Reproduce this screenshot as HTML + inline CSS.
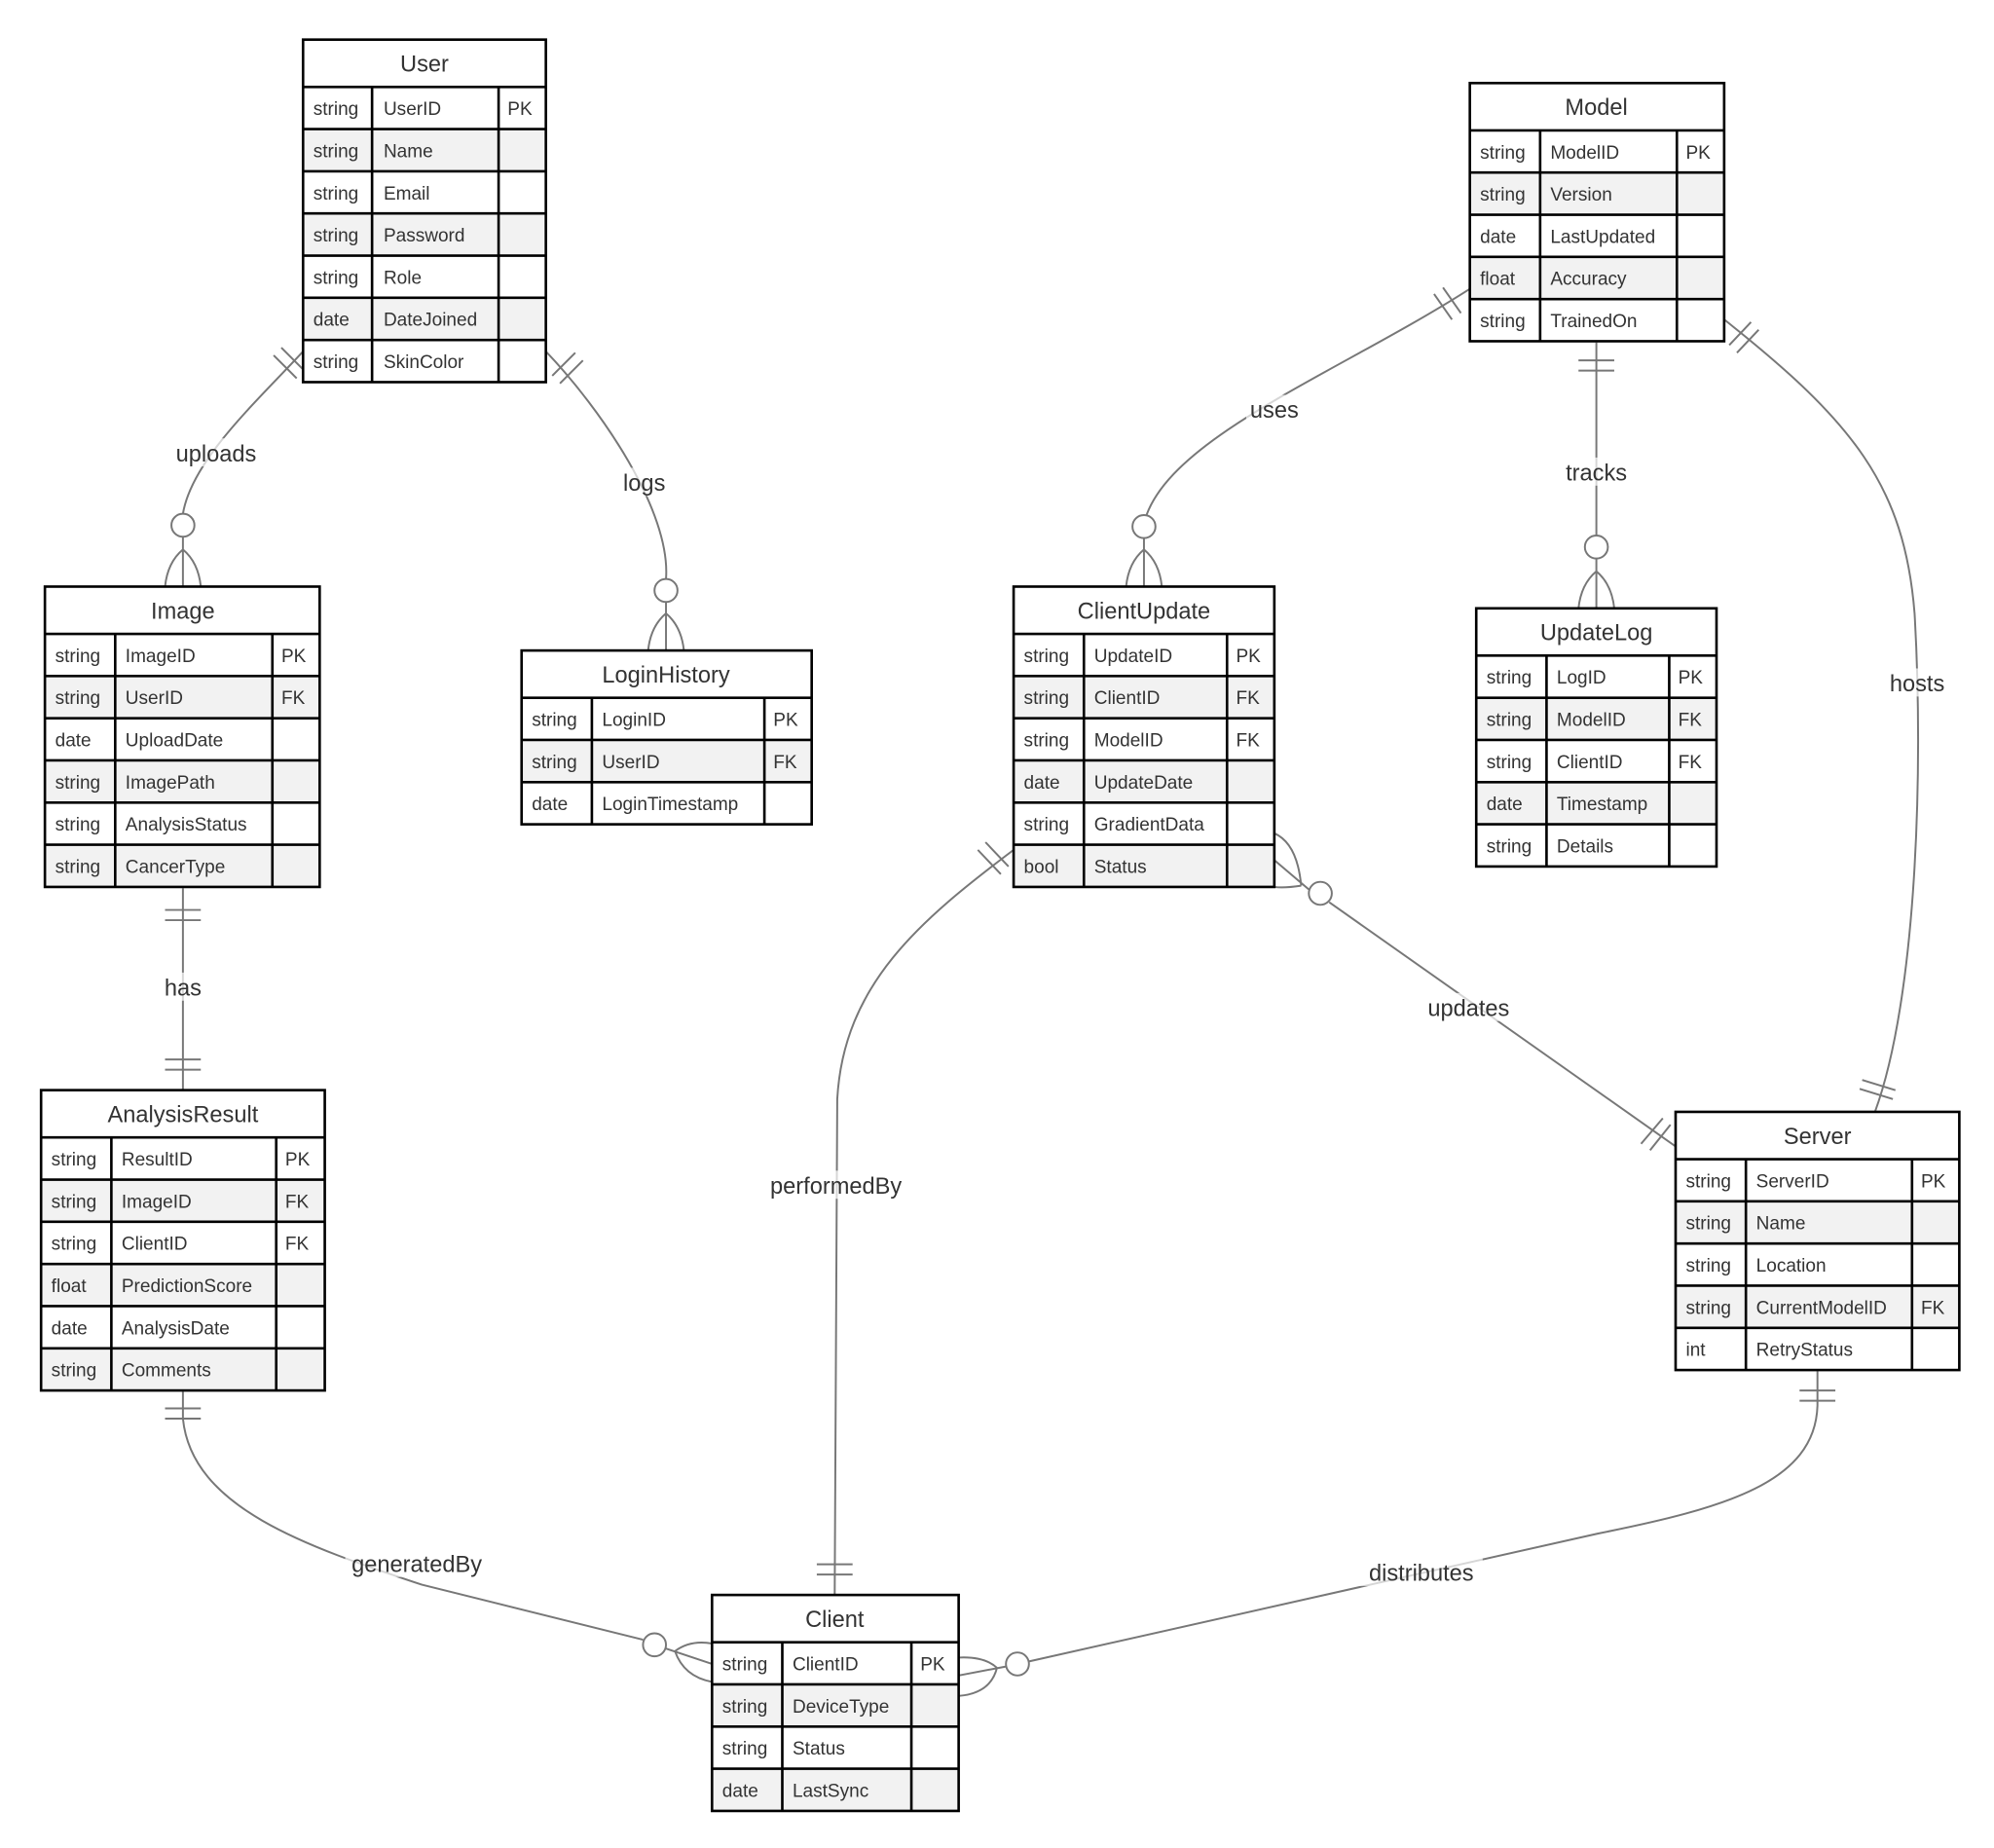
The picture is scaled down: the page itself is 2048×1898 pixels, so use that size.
<!DOCTYPE html>
<html><head><meta charset="utf-8"><style>
html,body{margin:0;padding:0;background:#fff;}
svg{display:block;}
text{font-family:"Liberation Sans",Arial,sans-serif;fill:#333;}
.t{font-size:18px;text-anchor:middle;}
.a{font-size:14.5px;}
.l{font-size:18px;text-anchor:middle;}
.e{fill:none;stroke:#777;stroke-width:1.5;}
.b{fill:none;stroke:#000;stroke-width:2;}
.g{fill:#f2f2f2;}
.lb{fill:#fff;opacity:0.7;}
</style></head><body>
<svg width="2048" height="1898" viewBox="0 0 1560 1446" xmlns="http://www.w3.org/2000/svg">
<!-- EDGES -->
<!-- uploads -->
<path class="e" d="M237,275 C200,315 150,360 143,402"/>
<line class="e" x1="214" y1="278" x2="232" y2="296"/><line class="e" x1="220" y1="272" x2="238" y2="290"/>
<circle class="e" cx="143" cy="411" r="9"/>
<path class="e" d="M143,420 L143,459 M143,430 Q131,440 129,459 M143,430 Q155,440 157,459"/>
<rect class="lb" x="134" y="343" width="70" height="22"/><text class="l" x="169" y="361">uploads</text>
<!-- logs -->
<path class="e" d="M427,275 C470,320 525,400 521,453"/>
<line class="e" x1="432" y1="294" x2="450" y2="276"/><line class="e" x1="438" y1="300" x2="456" y2="282"/>
<circle class="e" cx="521" cy="462" r="9"/>
<path class="e" d="M521,471 L521,509 M521,480 Q509,490 507,509 M521,480 Q533,490 535,509"/>
<rect class="lb" x="486" y="366" width="36" height="22"/><text class="l" x="504" y="384">logs</text>
<!-- has -->
<line class="e" x1="143" y1="695" x2="143" y2="853"/>
<line class="e" x1="129" y1="712" x2="157" y2="712"/><line class="e" x1="129" y1="720" x2="157" y2="720"/>
<line class="e" x1="129" y1="829" x2="157" y2="829"/><line class="e" x1="129" y1="837" x2="157" y2="837"/>
<rect class="lb" x="125" y="761" width="36" height="22"/><text class="l" x="143" y="779">has</text>
<!-- generatedBy -->
<path class="e" d="M143,1089 L143,1110 C150,1180 240,1210 330,1240 L503,1283"/>
<line class="e" x1="129" y1="1102" x2="157" y2="1102"/><line class="e" x1="129" y1="1110" x2="157" y2="1110"/>
<circle class="e" cx="512" cy="1287" r="9"/>
<path class="e" d="M521,1290 L557,1302 M528,1292 Q540,1283 557,1286 M528,1292 Q535,1312 557,1316"/>
<rect class="lb" x="270" y="1212" width="112" height="22"/><text class="l" x="326" y="1230">generatedBy</text>
<!-- performedBy -->
<path class="e" d="M793,665 C720,720 660,770 655,860 L653,1248"/>
<line class="e" x1="765" y1="665" x2="783" y2="684"/><line class="e" x1="771" y1="659" x2="789" y2="678"/>
<line class="e" x1="639" y1="1224" x2="667" y2="1224"/><line class="e" x1="639" y1="1232" x2="667" y2="1232"/>
<rect class="lb" x="598" y="916" width="112" height="22"/><text class="l" x="654" y="934">performedBy</text>
<!-- uses -->
<path class="e" d="M1150,226 C1050,290 920,340 897,403"/>
<line class="e" x1="1122" y1="230" x2="1136" y2="250"/><line class="e" x1="1129" y1="225" x2="1143" y2="245"/>
<circle class="e" cx="895" cy="412" r="9"/>
<path class="e" d="M895,421 L895,459 M895,430 Q883,440 881,459 M895,430 Q907,440 909,459"/>
<rect class="lb" x="975" y="309" width="44" height="22"/><text class="l" x="997" y="327">uses</text>
<!-- tracks -->
<line class="e" x1="1249" y1="268" x2="1249" y2="419"/>
<line class="e" x1="1235" y1="282" x2="1263" y2="282"/><line class="e" x1="1235" y1="290" x2="1263" y2="290"/>
<circle class="e" cx="1249" cy="428" r="9"/>
<path class="e" d="M1249,437 L1249,476 M1249,447 Q1237,457 1235,476 M1249,447 Q1261,457 1263,476"/>
<rect class="lb" x="1222" y="358" width="54" height="22"/><text class="l" x="1249" y="376">tracks</text>
<!-- hosts -->
<path class="e" d="M1349,250 C1450,330 1490,380 1498,480 C1505,600 1500,780 1467,870"/>
<line class="e" x1="1353" y1="270" x2="1370" y2="252"/><line class="e" x1="1359" y1="276" x2="1376" y2="258"/>
<line class="e" x1="1457" y1="845" x2="1483" y2="853"/><line class="e" x1="1455" y1="852" x2="1481" y2="860"/>
<rect class="lb" x="1476" y="523" width="48" height="22"/><text class="l" x="1500" y="541">hosts</text>
<!-- updates -->
<path class="e" d="M1040,706 L1311,897"/>
<circle class="e" cx="1033" cy="699" r="9"/>
<path class="e" d="M1024,696 L997,673 M1018,693 Q1015,660 997,652 M1018,693 Q1005,695 997,694"/>
<line class="e" x1="1284" y1="895" x2="1301" y2="875"/><line class="e" x1="1291" y1="900" x2="1307" y2="880"/>
<rect class="lb" x="1114" y="777" width="70" height="22"/><text class="l" x="1149" y="795">updates</text>
<!-- distributes -->
<path class="e" d="M1422,1073 L1422,1100 C1420,1160 1350,1180 1250,1200 L805,1300"/>
<line class="e" x1="1408" y1="1088" x2="1436" y2="1088"/><line class="e" x1="1408" y1="1096" x2="1436" y2="1096"/>
<circle class="e" cx="796" cy="1302" r="9"/>
<path class="e" d="M787,1304 L750,1311 M780,1305 Q770,1296 750,1297 M780,1305 Q775,1325 750,1327"/>
<rect class="lb" x="1064" y="1219" width="96" height="22"/><text class="l" x="1112" y="1237">distributes</text>

<!-- TABLES -->
<!-- User -->
<g>
<rect x="237" y="31" width="190" height="268" fill="#fff"/>
<rect class="g" x="237" y="101" width="190" height="33"/><rect class="g" x="237" y="167" width="190" height="33"/><rect class="g" x="237" y="233" width="190" height="33"/>
<text class="t" x="332" y="56">User</text>
<path class="b" d="M237,68H427M237,101H427M237,134H427M237,167H427M237,200H427M237,233H427M237,266H427M291,68V299M390,68V299"/>
<rect class="b" x="237" y="31" width="190" height="268"/>
<text class="a" x="245" y="90">string</text><text class="a" x="300" y="90">UserID</text><text class="a" x="397" y="90">PK</text>
<text class="a" x="245" y="123">string</text><text class="a" x="300" y="123">Name</text>
<text class="a" x="245" y="156">string</text><text class="a" x="300" y="156">Email</text>
<text class="a" x="245" y="189">string</text><text class="a" x="300" y="189">Password</text>
<text class="a" x="245" y="222">string</text><text class="a" x="300" y="222">Role</text>
<text class="a" x="245" y="255">date</text><text class="a" x="300" y="255">DateJoined</text>
<text class="a" x="245" y="288">string</text><text class="a" x="300" y="288">SkinColor</text>
</g>
<!-- Model -->
<g>
<rect x="1150" y="65" width="199" height="202" fill="#fff"/>
<rect class="g" x="1150" y="135" width="199" height="33"/><rect class="g" x="1150" y="201" width="199" height="33"/>
<text class="t" x="1249" y="90">Model</text>
<path class="b" d="M1150,102H1349M1150,135H1349M1150,168H1349M1150,201H1349M1150,234H1349M1205,102V267M1312,102V267"/>
<rect class="b" x="1150" y="65" width="199" height="202"/>
<text class="a" x="1158" y="124">string</text><text class="a" x="1213" y="124">ModelID</text><text class="a" x="1319" y="124">PK</text>
<text class="a" x="1158" y="157">string</text><text class="a" x="1213" y="157">Version</text>
<text class="a" x="1158" y="190">date</text><text class="a" x="1213" y="190">LastUpdated</text>
<text class="a" x="1158" y="223">float</text><text class="a" x="1213" y="223">Accuracy</text>
<text class="a" x="1158" y="256">string</text><text class="a" x="1213" y="256">TrainedOn</text>
</g>
<!-- Image -->
<g>
<rect x="35" y="459" width="215" height="235" fill="#fff"/>
<rect class="g" x="35" y="529" width="215" height="33"/><rect class="g" x="35" y="595" width="215" height="33"/><rect class="g" x="35" y="661" width="215" height="33"/>
<text class="t" x="143" y="484">Image</text>
<path class="b" d="M35,496H250M35,529H250M35,562H250M35,595H250M35,628H250M35,661H250M90,496V694M213,496V694"/>
<rect class="b" x="35" y="459" width="215" height="235"/>
<text class="a" x="43" y="518">string</text><text class="a" x="98" y="518">ImageID</text><text class="a" x="220" y="518">PK</text>
<text class="a" x="43" y="551">string</text><text class="a" x="98" y="551">UserID</text><text class="a" x="220" y="551">FK</text>
<text class="a" x="43" y="584">date</text><text class="a" x="98" y="584">UploadDate</text>
<text class="a" x="43" y="617">string</text><text class="a" x="98" y="617">ImagePath</text>
<text class="a" x="43" y="650">string</text><text class="a" x="98" y="650">AnalysisStatus</text>
<text class="a" x="43" y="683">string</text><text class="a" x="98" y="683">CancerType</text>
</g>
<!-- LoginHistory -->
<g>
<rect x="408" y="509" width="227" height="136" fill="#fff"/>
<rect class="g" x="408" y="579" width="227" height="33"/>
<text class="t" x="521" y="534">LoginHistory</text>
<path class="b" d="M408,546H635M408,579H635M408,612H635M463,546V645M598,546V645"/>
<rect class="b" x="408" y="509" width="227" height="136"/>
<text class="a" x="416" y="568">string</text><text class="a" x="471" y="568">LoginID</text><text class="a" x="605" y="568">PK</text>
<text class="a" x="416" y="601">string</text><text class="a" x="471" y="601">UserID</text><text class="a" x="605" y="601">FK</text>
<text class="a" x="416" y="634">date</text><text class="a" x="471" y="634">LoginTimestamp</text>
</g>
<!-- ClientUpdate -->
<g>
<rect x="793" y="459" width="204" height="235" fill="#fff"/>
<rect class="g" x="793" y="529" width="204" height="33"/><rect class="g" x="793" y="595" width="204" height="33"/><rect class="g" x="793" y="661" width="204" height="33"/>
<text class="t" x="895" y="484">ClientUpdate</text>
<path class="b" d="M793,496H997M793,529H997M793,562H997M793,595H997M793,628H997M793,661H997M848,496V694M960,496V694"/>
<rect class="b" x="793" y="459" width="204" height="235"/>
<text class="a" x="801" y="518">string</text><text class="a" x="856" y="518">UpdateID</text><text class="a" x="967" y="518">PK</text>
<text class="a" x="801" y="551">string</text><text class="a" x="856" y="551">ClientID</text><text class="a" x="967" y="551">FK</text>
<text class="a" x="801" y="584">string</text><text class="a" x="856" y="584">ModelID</text><text class="a" x="967" y="584">FK</text>
<text class="a" x="801" y="617">date</text><text class="a" x="856" y="617">UpdateDate</text>
<text class="a" x="801" y="650">string</text><text class="a" x="856" y="650">GradientData</text>
<text class="a" x="801" y="683">bool</text><text class="a" x="856" y="683">Status</text>
</g>
<!-- UpdateLog -->
<g>
<rect x="1155" y="476" width="188" height="202" fill="#fff"/>
<rect class="g" x="1155" y="546" width="188" height="33"/><rect class="g" x="1155" y="612" width="188" height="33"/>
<text class="t" x="1249" y="501">UpdateLog</text>
<path class="b" d="M1155,513H1343M1155,546H1343M1155,579H1343M1155,612H1343M1155,645H1343M1210,513V678M1306,513V678"/>
<rect class="b" x="1155" y="476" width="188" height="202"/>
<text class="a" x="1163" y="535">string</text><text class="a" x="1218" y="535">LogID</text><text class="a" x="1313" y="535">PK</text>
<text class="a" x="1163" y="568">string</text><text class="a" x="1218" y="568">ModelID</text><text class="a" x="1313" y="568">FK</text>
<text class="a" x="1163" y="601">string</text><text class="a" x="1218" y="601">ClientID</text><text class="a" x="1313" y="601">FK</text>
<text class="a" x="1163" y="634">date</text><text class="a" x="1218" y="634">Timestamp</text>
<text class="a" x="1163" y="667">string</text><text class="a" x="1218" y="667">Details</text>
</g>
<!-- AnalysisResult -->
<g>
<rect x="32" y="853" width="222" height="235" fill="#fff"/>
<rect class="g" x="32" y="923" width="222" height="33"/><rect class="g" x="32" y="989" width="222" height="33"/><rect class="g" x="32" y="1055" width="222" height="33"/>
<text class="t" x="143" y="878">AnalysisResult</text>
<path class="b" d="M32,890H254M32,923H254M32,956H254M32,989H254M32,1022H254M32,1055H254M87,890V1088M216,890V1088"/>
<rect class="b" x="32" y="853" width="222" height="235"/>
<text class="a" x="40" y="912">string</text><text class="a" x="95" y="912">ResultID</text><text class="a" x="223" y="912">PK</text>
<text class="a" x="40" y="945">string</text><text class="a" x="95" y="945">ImageID</text><text class="a" x="223" y="945">FK</text>
<text class="a" x="40" y="978">string</text><text class="a" x="95" y="978">ClientID</text><text class="a" x="223" y="978">FK</text>
<text class="a" x="40" y="1011">float</text><text class="a" x="95" y="1011">PredictionScore</text>
<text class="a" x="40" y="1044">date</text><text class="a" x="95" y="1044">AnalysisDate</text>
<text class="a" x="40" y="1077">string</text><text class="a" x="95" y="1077">Comments</text>
</g>
<!-- Server -->
<g>
<rect x="1311" y="870" width="222" height="202" fill="#fff"/>
<rect class="g" x="1311" y="940" width="222" height="33"/><rect class="g" x="1311" y="1006" width="222" height="33"/>
<text class="t" x="1422" y="895">Server</text>
<path class="b" d="M1311,907H1533M1311,940H1533M1311,973H1533M1311,1006H1533M1311,1039H1533M1366,907V1072M1496,907V1072"/>
<rect class="b" x="1311" y="870" width="222" height="202"/>
<text class="a" x="1319" y="929">string</text><text class="a" x="1374" y="929">ServerID</text><text class="a" x="1503" y="929">PK</text>
<text class="a" x="1319" y="962">string</text><text class="a" x="1374" y="962">Name</text>
<text class="a" x="1319" y="995">string</text><text class="a" x="1374" y="995">Location</text>
<text class="a" x="1319" y="1028">string</text><text class="a" x="1374" y="1028">CurrentModelID</text><text class="a" x="1503" y="1028">FK</text>
<text class="a" x="1319" y="1061">int</text><text class="a" x="1374" y="1061">RetryStatus</text>
</g>
<!-- Client -->
<g>
<rect x="557" y="1248" width="193" height="169" fill="#fff"/>
<rect class="g" x="557" y="1318" width="193" height="33"/><rect class="g" x="557" y="1384" width="193" height="33"/>
<text class="t" x="653" y="1273">Client</text>
<path class="b" d="M557,1285H750M557,1318H750M557,1351H750M557,1384H750M612,1285V1417M713,1285V1417"/>
<rect class="b" x="557" y="1248" width="193" height="169"/>
<text class="a" x="565" y="1307">string</text><text class="a" x="620" y="1307">ClientID</text><text class="a" x="720" y="1307">PK</text>
<text class="a" x="565" y="1340">string</text><text class="a" x="620" y="1340">DeviceType</text>
<text class="a" x="565" y="1373">string</text><text class="a" x="620" y="1373">Status</text>
<text class="a" x="565" y="1406">date</text><text class="a" x="620" y="1406">LastSync</text>
</g>
</svg>
</body></html>
